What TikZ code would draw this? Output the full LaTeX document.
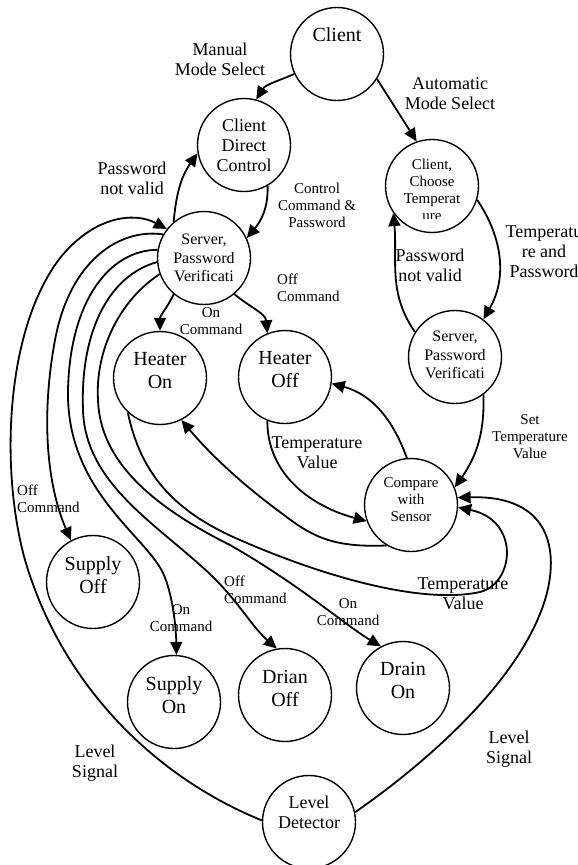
\documentclass[tikz,border=0pt]{standalone}
\usepackage{fontspec}
\setmainfont{Liberation Serif}
\usetikzlibrary{arrows.meta}

\begin{document}
\begin{tikzpicture}[x=1pt, y=-1pt,
  state/.style={circle, draw, line width=1.4pt, minimum size=93pt, inner sep=0pt},
  txt/.style={align=center, inner sep=0pt},
  fA/.style={font=\fontsize{20}{23}\selectfont},
  fB/.style={font=\fontsize{18}{20}\selectfont},
  fC/.style={font=\fontsize{16}{18.5}\selectfont},
  fD/.style={font=\fontsize{15}{17}\selectfont},
  link/.style={line width=1.8pt, -{Triangle[length=13pt, width=12pt]}}]

\useasboundingbox (0,0) rectangle (578,865);

% states
\node[state, label={[txt, fA, yshift=19pt]center:Client}] (client) at (337,54) {};
\node[state, label={[txt, fB]center:Client\\Direct\\Control}] (direct) at (244,145) {};
\node[state] (choose) at (432,186) {};
\node[state, label={[txt, fC]center:Server,\\Password\\Verificati}] (server) at (204,258) {};
\node[state, label={[txt, fC, yshift=2pt]center:Server,\\Password\\Verificati}] (verify) at (455,357) {};
\node[state, label={[txt, fA, yshift=7pt]center:Heater\\On}] (heateron) at (160,378) {};
\node[state, label={[txt, fA, yshift=7pt]center:Heater\\Off}] (heateroff) at (285,377) {};
\node[state, label={[txt, fD, yshift=5pt]center:Compare\\with\\Sensor}] (compare) at (411,505) {};
\node[state, label={[txt, fA, yshift=7pt]center:Supply\\Off}] (supplyoff) at (93,582) {};
\node[state, label={[txt, fA, yshift=7pt]center:Supply\\On}] (supplyon) at (174,702) {};
\node[state, label={[txt, fA, yshift=7pt]center:Drian\\Off}] (drainoff) at (285,695) {};
\node[state, label={[txt, fA, yshift=8pt]center:Drain\\On}] (drainon) at (403,688) {};
\node[state, label={[txt, fB, yshift=10pt]center:Level\\Detector}] (level) at (309,822) {};

\begin{scope}
  \clip (380,130) rectangle (485,218);
  \node[txt, fD] (chooseText) at (432,190) {Client,\\Choose\\Temperat\\ure};
\end{scope}

% mode selection
\draw[link] (client.205) to[out=204, in=58] (direct.75);
\draw[link] (client.-32) -- (choose.109);

% manual branch
\draw[link] (direct.-60) to[out=-88, in=50] (server.25);
\draw[link] (server.130) to[out=85, in=235] (direct.190);
\draw[link] (server.-130) to[out=-115, in=90] (heateron.90);
\draw[link] (server.-50) to[out=-40, in=95] (heateroff.112);

% automatic branch
\draw[link] (choose.-17) to[out=-56, in=60] (verify.53);
\draw[link] (verify.148) to[out=125, in=-85] (choose.215);
\draw[link] (verify.-53) to[out=-88, in=55] (compare.22);
\draw[link] (compare.95) to[out=110, in=-15] (heateroff.-8);
\draw[link] (heateroff.-112) to[out=-90, in=165] (compare.200);
\draw[link] (compare.-121) .. controls (330,548) and (310,535) .. (280,512)
  .. controls (250,490) and (215,460) .. (heateron.-63);
\draw[link] (heateron.-133) .. controls (140,470) and (170,510) .. (240,540)
  .. controls (320,575) and (420,605) .. (480,592)
  .. controls (515,583) and (520,520) .. (compare.-3);

% supply and drain
\draw[link] (server.150) .. controls (120,228) and (70,260) .. (55,340)
  .. controls (42,410) and (45,480) .. (supplyoff.118);
\draw[link] (server.170) .. controls (110,250) and (70,300) .. (68,390)
  .. controls (66,490) and (145,535) .. (163,573)
  .. controls (172,592) and (176,625) .. (supplyon.87);
\draw[link] (server.185) .. controls (110,275) and (80,330) .. (83,410)
  .. controls (85,480) and (150,520) .. (200,565)
  .. controls (235,595) and (250,625) .. (drainoff.100);
\draw[link] (server.200) .. controls (120,300) and (95,350) .. (98,400)
  .. controls (100,460) and (150,505) .. (230,545)
  .. controls (300,585) and (345,625) .. (drainon.118);

% level detector
\draw[link] (level.178) .. controls (150,775) and (60,680) .. (25,560)
  .. controls (0,470) and (5,330) .. (60,258)
  .. controls (95,215) and (135,212) .. (server.142);
\draw[link] (level.12) .. controls (430,760) and (520,680) .. (545,600)
  .. controls (560,550) and (550,495) .. (compare.9);

% labels
\node[txt, fB] (manualLbl) at (220,59) {Manual\\Mode Select};
\node[txt, fB] (autoLbl) at (450,94) {Automatic\\Mode Select};
\node[txt, fB] (invalidA) at (132,178) {Password\\not valid};
\node[txt, fD] (ctrlLbl) at (317,205) {Control\\Command \&\\Password};
\node[txt, fD, anchor=west, align=left] (offA) at (277,288) {Off\\Command};
\node[txt, fD] (onA) at (211,321) {On\\Command};
\node[txt, fB] (invalidB) at (430,265) {Password\\not valid};
\node[txt, fB] (tempPwd) at (544,252) {Temperatu\\re and\\Password};
\node[txt, fD] (setLbl) at (530,437) {Set\\Temperature\\Value};
\node[txt, fB] (tempA) at (317,453) {Temperature\\Value};
\node[txt, fB] (tempB) at (463,594) {Temperature\\Value};
\node[txt, fD, anchor=west, align=left] (offB) at (17,499) {Off\\Command};
\node[txt, fD] (onB) at (181,618) {On\\Command};
\node[txt, fD, anchor=west, align=left] (offC) at (224,590) {Off\\Command};
\node[txt, fD] (onC) at (348,612) {On\\Command};
\node[txt, fB] (levelA) at (95,763) {Level\\Signal};
\node[txt, fB] (levelB) at (509,749) {Level\\Signal};

\end{tikzpicture}
\end{document}
